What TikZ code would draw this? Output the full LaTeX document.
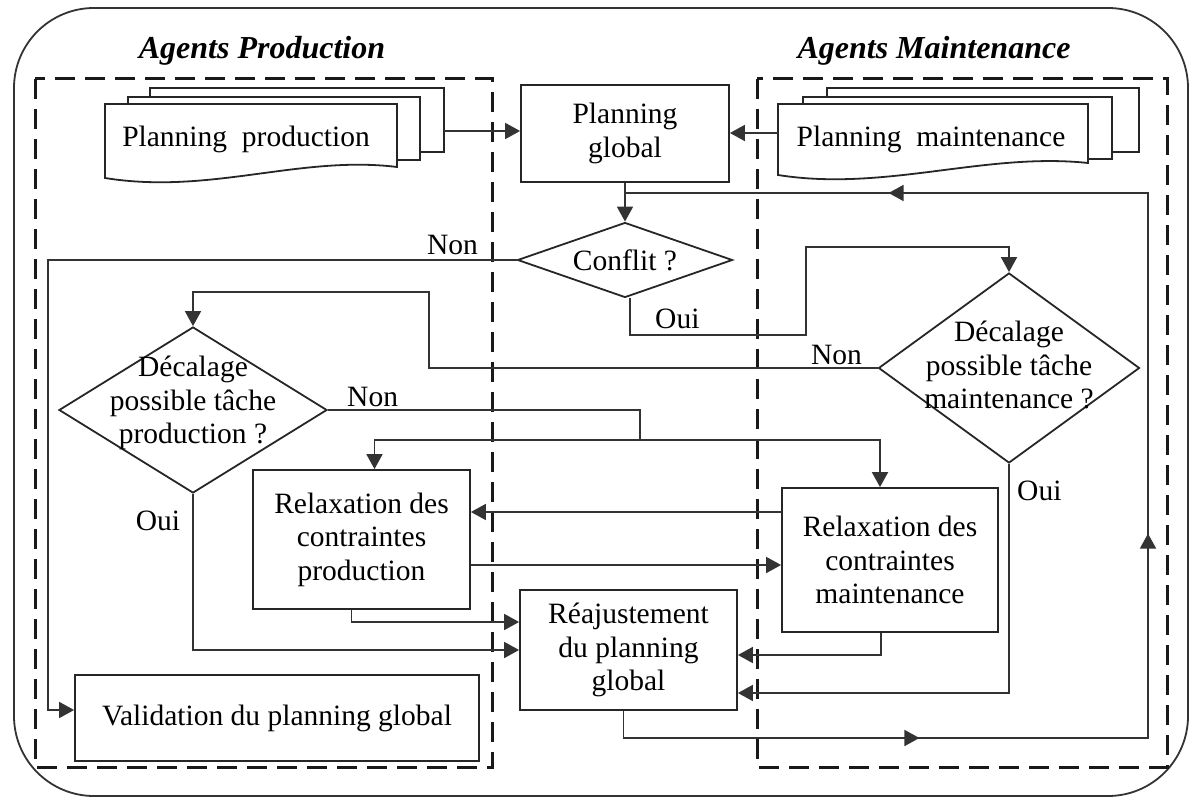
\documentclass[tikz,border=0pt]{standalone}
\usepackage{fontspec}
\setmainfont{Liberation Serif}
\usetikzlibrary{arrows.meta,shapes.geometric,decorations.markings}
\newcommand{\bodyfont}{\fontsize{29.5}{33.5}\selectfont}

\begin{document}
\begin{tikzpicture}[x=1pt,y=-1pt,
  lnk/.style={draw=black!80,line width=1.8pt},
  arr/.style={lnk,-{Triangle[length=15pt,width=16pt]}},
  box/.style={draw=black!85,line width=1.8pt,fill=white,align=center,inner sep=0pt,font=\bodyfont},
  decis/.style={draw=black!85,line width=1.8pt,shape=diamond,inner sep=0pt},
  lbl/.style={align=center,inner sep=0pt,font=\bodyfont},
  txt/.style={anchor=base,inner sep=0pt,font=\bodyfont},
  title/.style={anchor=base,inner sep=0pt,font=\fontsize{32}{38}\selectfont\bfseries\itshape},
  agentbox/.style={draw=black!90,line width=3pt,dash pattern=on 20pt off 10pt},
  page/.style={draw=black!85,line width=1.8pt,fill=white}]
\path[use as bounding box] (0,0) rectangle (1193,799);
% frame and agent zones
\draw[lnk,rounded corners=80pt] (14,8) rectangle (1188,796);
\draw[agentbox] (35,79) rectangle (492,767);
\draw[agentbox] (757,79) rectangle (1167,767);
\node[title] (tprod) at (262,59) {Agents Production};
\node[title] (tmaint) at (934,59) {Agents Maintenance};
% plannings (multi documents)
\draw[page] (150,88) rectangle (444,152);
\draw[page] (128,97) rectangle (420,160);
\draw[page] (105,104) -- (397,104) -- (397,167) .. controls (300,155) and (210,195) .. (105,178) -- cycle;
\node[txt] (docP) at (246,147) {Planning~ production};
\draw[page] (827,88) rectangle (1139,152);
\draw[page] (803,97) rectangle (1112,159);
\draw[page] (778,104) -- (1088,104) -- (1088,163) .. controls (985,152) and (885,192) .. (778,175) -- cycle;
\node[txt] (docM) at (931,147) {Planning~ maintenance};
\coordinate (docPout) at (444,131);
\coordinate (docMin) at (778,133);
% nodes
\node[box,minimum width=208,minimum height=97] (glob) at (625,133.5) {Planning\\global};
\node[decis,minimum width=215,minimum height=75,label={[lbl]center:Conflit ?}] (conf) at (625,260) {};
\node[decis,minimum width=261,minimum height=190,label={[lbl,yshift=3pt]center:Décalage\\possible tâche\\maintenance ?}] (dm) at (1009,368) {};
\node[decis,minimum width=268,minimum height=166,label={[lbl,yshift=7pt]center:Décalage\\possible tâche\\production ?}] (dp) at (193,410) {};
\node[box,minimum width=217,minimum height=139] (rp) at (361.5,539.5) {Relaxation des\\contraintes\\production};
\node[box,minimum width=216,minimum height=144] (rm) at (890,560) {Relaxation des\\contraintes\\maintenance};
\node[box,minimum width=217,minimum height=120] (reaj) at (628.5,650) {Réajustement\\du planning\\global};
\node[box,minimum width=404,minimum height=86] (val) at (277,718) {Validation du planning global};
% helper points
\coordinate (join) at (625,193);
\coordinate (loopB) at (1148,738);
\coordinate (nonC) at (48,710);
\coordinate (ouiA) at (806,335);
\coordinate (ouiB) at (806,247);
\coordinate (nonA) at (429,292);
\coordinate (split) at (640,440);
% connectors
\draw[arr] (docPout) -- (docPout -| glob.west);
\draw[arr] (docMin) -- (docMin -| glob.east);
\draw[arr] (glob.south) -- (conf.north);
\draw[arr] (conf.west) -| (nonC) -- (nonC -| val.west);
\draw[arr] ([xshift=5pt]conf.south) |- (ouiA) -- (ouiB) -| (dm.north);
\draw[arr] (dm.west) -| (nonA) -| (dp.north);
\draw[lnk] (dp.east) -| (split);
\draw[arr] (split) -| ([xshift=13pt]rp.north);
\draw[arr] (split) -| ([xshift=-10pt]rm.north);
\draw[arr] (rm.west |- 0,512) -- (rp.east |- 0,512);
\draw[arr] (rp.east |- 0,565) -- (rm.west |- 0,565);
\draw[arr] ([xshift=-10pt]rp.south) |- (reaj.west |- 0,622);
\draw[arr] (dp.south) |- (reaj.west |- 0,650);
\draw[arr] ([xshift=-9pt]rm.south) |- (reaj.east |- 0,655);
\draw[arr] (dm.south) |- (reaj.east |- 0,693);
\draw[lnk,postaction={decorate},decoration={markings,
  mark=at position 323pt with {\arrow{Triangle[length=15pt,width=16pt]}},
  mark=at position 756pt with {\arrow{Triangle[length=15pt,width=16pt]}},
  mark=at position 1356pt with {\arrow{Triangle[length=15pt,width=16pt]}}}]
  ([xshift=-5pt]reaj.south) |- (loopB) |- (join);
% branch labels
\node[txt,anchor=base east] (nonConf) at (478,255) {Non};
\node[txt,anchor=base west] (ouiConf) at (655,328) {Oui};
\node[txt,anchor=base east] (nonDm) at (862,364) {Non};
\node[txt,anchor=base west] (ouiDm) at (1017,500) {Oui};
\node[txt,anchor=base west] (nonDp) at (347,406) {Non};
\node[txt] (ouiDp) at (158,530) {Oui};
\end{tikzpicture}
\end{document}
